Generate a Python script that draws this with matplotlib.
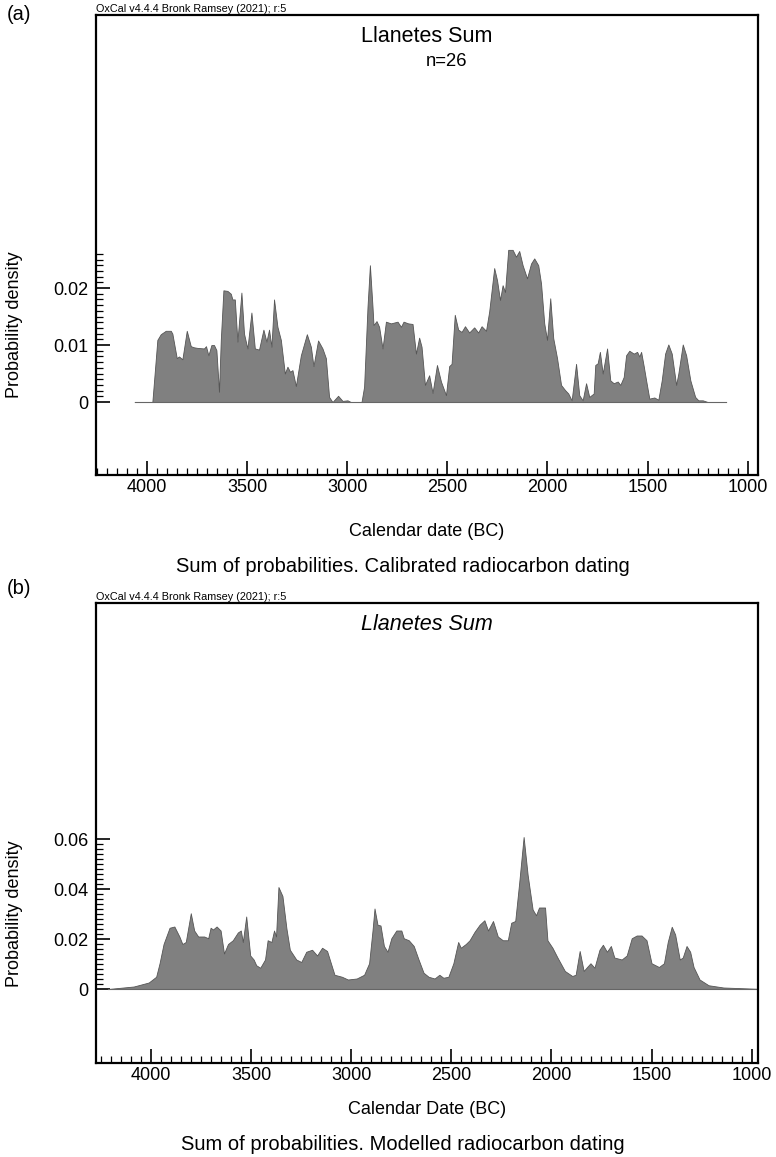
import numpy as np
import matplotlib
matplotlib.use("Agg")
import matplotlib.pyplot as plt

plt.rcParams['font.family'] = ['Liberation Sans', 'DejaVu Sans']

# (a) calibrated sum, year BC and probability density
years_a = [4062, 3974, 3949, 3932, 3907, 3882, 3874, 3852, 3841, 3824, 3802, 3782, 3766, 3749,
           3716, 3706, 3694, 3679, 3666, 3654, 3641, 3632, 3619, 3599, 3582, 3574, 3562, 3549,
           3529, 3516, 3499, 3479, 3462, 3441, 3419, 3404, 3391, 3379, 3366, 3349, 3332, 3312,
           3299, 3286, 3274, 3257, 3232, 3202, 3182, 3169, 3146, 3124, 3107, 3091, 3074, 3046,
           3024, 2999, 2982, 2929, 2916, 2899, 2887, 2874, 2869, 2854, 2841, 2824, 2807, 2782,
           2749, 2732, 2719, 2696, 2674, 2657, 2641, 2629, 2612, 2591, 2574, 2552, 2532, 2507,
           2491, 2479, 2463, 2446, 2429, 2412, 2391, 2366, 2346, 2329, 2307, 2291, 2266, 2252,
           2237, 2224, 2212, 2196, 2174, 2157, 2141, 2124, 2102, 2082, 2066, 2046, 2032, 2016,
           2002, 1986, 1971, 1952, 1932, 1912, 1896, 1879, 1857, 1841, 1824, 1807, 1791, 1769,
           1761, 1749, 1738, 1724, 1702, 1686, 1669, 1649, 1636, 1619, 1607, 1591, 1569, 1552,
           1541, 1532, 1519, 1507, 1491, 1466, 1446, 1429, 1412, 1396, 1379, 1357, 1346, 1324,
           1307, 1286, 1262, 1246, 1224, 1199, 1107]
dens_a = [0, 0, 0.0109, 0.0119, 0.0125, 0.0125, 0.0120, 0.0077, 0.0080, 0.0075, 0.0125, 0.0098,
          0.0096, 0.0095, 0.0094, 0.0098, 0.0082, 0.0100, 0.0100, 0.0091, 0.0018, 0.0109, 0.0196,
          0.0195, 0.0190, 0.0180, 0.0180, 0.0106, 0.0192, 0.0120, 0.0094, 0.0157, 0.0094, 0.0092,
          0.0127, 0.0106, 0.0127, 0.0097, 0.0180, 0.0132, 0.0109, 0.0050, 0.0062, 0.0053, 0.0056,
          0.0028, 0.0082, 0.0119, 0.0097, 0.0063, 0.0108, 0.0094, 0.0077, 0.0009, 0, 0.0011,
          0.0002, 0.0003, 0, 0, 0.0027, 0.0167, 0.0240, 0.0167, 0.0135, 0.0142, 0.0132, 0.0094,
          0.0141, 0.0138, 0.0141, 0.0132, 0.0141, 0.0138, 0.0137, 0.0085, 0.0113, 0.0097, 0.0030,
          0.0047, 0.0016, 0.0065, 0.0036, 0.0012, 0.0063, 0.0067, 0.0153, 0.0127, 0.0123, 0.0133,
          0.0122, 0.0131, 0.0122, 0.0133, 0.0125, 0.0159, 0.0235, 0.0214, 0.0179, 0.0205, 0.0193,
          0.0267, 0.0267, 0.0255, 0.0265, 0.0240, 0.0217, 0.0243, 0.0252, 0.0240, 0.0208, 0.0138,
          0.0109, 0.0182, 0.0112, 0.0077, 0.0030, 0.0021, 0.0015, 0.0003, 0.0067, 0.0012, 0.0003,
          0.0033, 0.0009, 0.0015, 0.0065, 0.0068, 0.0088, 0.0050, 0.0094, 0.0038, 0.0033, 0.0036,
          0.0030, 0.0044, 0.0082, 0.0090, 0.0085, 0.0088, 0.0080, 0.0088, 0.0063, 0.0038, 0.0006,
          0.0008, 0.0004, 0.0038, 0.0085, 0.0101, 0.0085, 0.0030, 0.0050, 0.0101, 0.0082, 0.0038,
          0.0009, 0.0003, 0.0003, 0, 0]

# (b) modelled sum
years_b = [4215, 4087, 4012, 3975, 3958, 3938, 3908, 3884, 3859, 3844, 3827, 3802, 3785, 3765,
           3735, 3715, 3703, 3691, 3673, 3653, 3636, 3616, 3592, 3567, 3552, 3542, 3525, 3505,
           3488, 3475, 3455, 3431, 3418, 3399, 3386, 3376, 3364, 3344, 3324, 3307, 3275, 3250,
           3225, 3196, 3171, 3146, 3121, 3102, 3084, 3047, 3017, 2973, 2936, 2911, 2894, 2884,
           2869, 2854, 2837, 2819, 2800, 2775, 2750, 2738, 2713, 2688, 2664, 2639, 2614, 2584,
           2560, 2540, 2515, 2490, 2466, 2453, 2428, 2409, 2384, 2359, 2335, 2317, 2292, 2268,
           2243, 2218, 2201, 2181, 2161, 2139, 2119, 2094, 2077, 2062, 2032, 2020, 1995, 1970,
           1933, 1896, 1879, 1859, 1839, 1822, 1805, 1785, 1760, 1743, 1723, 1703, 1686, 1649,
           1624, 1599, 1574, 1550, 1525, 1500, 1463, 1438, 1419, 1399, 1382, 1359, 1344, 1325,
           1307, 1290, 1260, 1215, 1141, 1042, 973]
dens_b = [0, 0.0010, 0.0026, 0.0049, 0.0103, 0.0180, 0.0245, 0.0250, 0.0210, 0.0180, 0.0188,
          0.0303, 0.0234, 0.0210, 0.0210, 0.0203, 0.0245, 0.0238, 0.0250, 0.0234, 0.0142, 0.0180,
          0.0195, 0.0226, 0.0234, 0.0188, 0.0290, 0.0134, 0.0118, 0.0095, 0.0085, 0.0118, 0.0195,
          0.0188, 0.0234, 0.0210, 0.0408, 0.0372, 0.0242, 0.0157, 0.0118, 0.0108, 0.0149, 0.0157,
          0.0134, 0.0165, 0.0152, 0.0103, 0.0057, 0.0049, 0.0038, 0.0042, 0.0057, 0.0103, 0.0234,
          0.0322, 0.0257, 0.0254, 0.0172, 0.0149, 0.0203, 0.0234, 0.0234, 0.0203, 0.0195, 0.0172,
          0.0118, 0.0065, 0.0049, 0.0042, 0.0057, 0.0045, 0.0049, 0.0103, 0.0188, 0.0165, 0.0180,
          0.0195, 0.0229, 0.0257, 0.0275, 0.0234, 0.0272, 0.0210, 0.0195, 0.0195, 0.0265, 0.0272,
          0.0426, 0.0608, 0.0457, 0.0318, 0.0295, 0.0326, 0.0326, 0.0195, 0.0165, 0.0126, 0.0072,
          0.0052, 0.0057, 0.0152, 0.0072, 0.0088, 0.0103, 0.0085, 0.0157, 0.0177, 0.0149, 0.0172,
          0.0126, 0.0118, 0.0134, 0.0203, 0.0214, 0.0214, 0.0195, 0.0103, 0.0088, 0.0103, 0.0188,
          0.0249, 0.0218, 0.0118, 0.0126, 0.0172, 0.0149, 0.0088, 0.0038, 0.0015, 0.0006, 0.0003,
          0.0001]

W, H = 776, 1157
fig = plt.figure(figsize=(W / 100, H / 100), dpi=100)


def px(x, y):
    return x / W, 1 - y / H


def panel(top, bottom, years, dens, xlim, ylim, yticks, ylabels, yminor):
    ax = fig.add_axes([95.5 / W, 1 - bottom / H, 662.5 / W, (bottom - top) / H])
    ax.fill_between(years, 0, dens, facecolor='#808080', edgecolor='#555555', lw=0.6)
    ax.plot([years[0], years[-1]], [0, 0], color='#666666', lw=0.8)
    ax.set_xlim(*xlim)
    ax.set_ylim(*ylim)
    ax.set_xticks([4000, 3500, 3000, 2500, 2000, 1500, 1000])
    ax.set_xticks(np.arange(4250, 999, -50), minor=True)
    ax.set_yticks(yticks, ylabels)
    ax.set_yticks(yminor, minor=True)
    ax.tick_params(which='both', direction='in', top=False, right=False, labelsize=13, width=1.2)
    ax.tick_params(which='major', length=10)
    ax.tick_params(which='minor', length=5, width=0.9)
    ax.tick_params(axis='x', pad=3)
    ax.tick_params(axis='y', pad=5)
    for s in ax.spines.values():
        s.set_linewidth(1.6)
    return ax


panel(15, 475, years_a, dens_a, (4258, 948), (-0.0128, 0.0679),
      [0, 0.01, 0.02], ['0', '0.01', '0.02'], np.arange(0, 0.0265, 0.001))
panel(603, 1063, years_b, dens_b, (4278, 968), (-0.0296, 0.1544),
      [0, 0.02, 0.04, 0.06], ['0', '0.02', '0.04', '0.06'], np.arange(0, 0.0605, 0.002))

# panel (a) texts
fig.text(*px(7, 14), '(a)', fontsize=14.5, va='center', ha='left')
fig.text(*px(96, 9), 'OxCal v4.4.4 Bronk Ramsey (2021); r:5', fontsize=7.8, va='center', ha='left')
fig.text(*px(427, 37), 'Llanetes Sum', fontsize=15.5, ha='center', va='center')
fig.text(*px(447, 61), 'n=26', fontsize=13.3, ha='center', va='center')
fig.text(*px(15, 325), 'Probability density', fontsize=13, rotation=90, ha='center', va='center')
fig.text(*px(427, 532), 'Calendar date (BC)', fontsize=13, ha='center', va='center')
fig.text(*px(403, 566), 'Sum of probabilities. Calibrated radiocarbon dating', fontsize=14.5,
         ha='center', va='center')

# panel (b) texts
fig.text(*px(7, 589), '(b)', fontsize=14.5, va='center', ha='left')
fig.text(*px(96, 597), 'OxCal v4.4.4 Bronk Ramsey (2021); r:5', fontsize=7.8, va='center', ha='left')
fig.text(*px(427, 625), 'Llanetes Sum', fontsize=15.5, style='italic', ha='center', va='center')
fig.text(*px(15, 914), 'Probability density', fontsize=13, rotation=90, ha='center', va='center')
fig.text(*px(427, 1110), 'Calendar Date (BC)', fontsize=13, ha='center', va='center')
fig.text(*px(403, 1145), 'Sum of probabilities. Modelled radiocarbon dating', fontsize=14.5,
         ha='center', va='center')

fig.savefig('out.png', dpi=100)
